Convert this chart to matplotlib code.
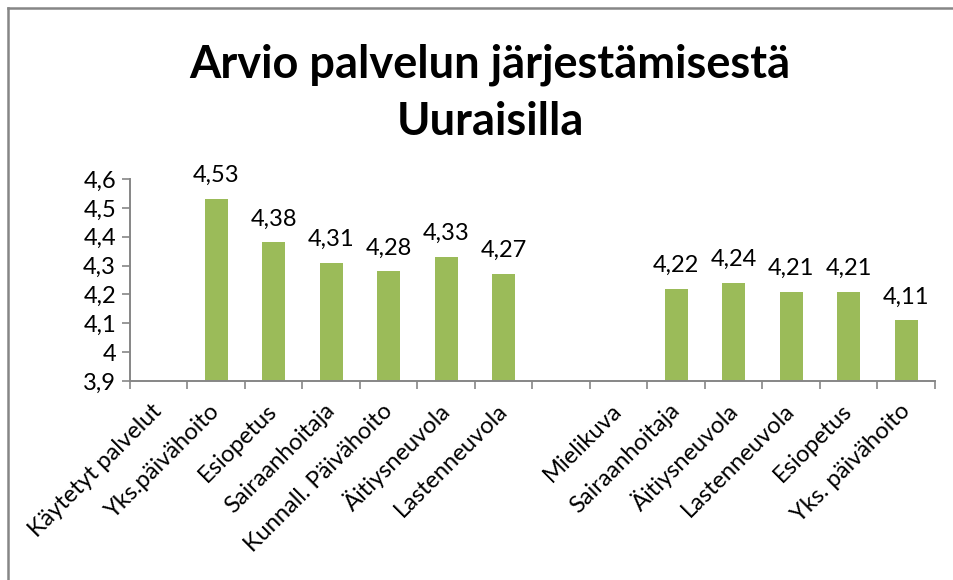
import numpy as np
import matplotlib.pyplot as plt
from matplotlib.lines import Line2D
from matplotlib.transforms import ScaledTranslation

plt.rcParams['font.family'] = ['Lato', 'DejaVu Sans']

categories = ['Käytetyt palvelut', 'Yks.päivähoito', 'Esiopetus', 'Sairaanhoitaja',
              'Kunnall. Päivähoito', 'Äitiysneuvola', 'Lastenneuvola', '',
              'Mielikuva', 'Sairaanhoitaja', 'Äitiysneuvola', 'Lastenneuvola',
              'Esiopetus', 'Yks. päivähoito']
values = [np.nan, 4.53, 4.38, 4.31, 4.28, 4.33, 4.27, np.nan,
          np.nan, 4.22, 4.24, 4.21, 4.21, 4.11]
yticks = [3.9, 4.0, 4.1, 4.2, 4.3, 4.4, 4.5, 4.6]
ytick_labels = ['3,9', '4', '4,1', '4,2', '4,3', '4,4', '4,5', '4,6']

bar_color = '#9BBB59'
axis_color = '#868686'

fig = plt.figure(figsize=(9.54, 5.8), dpi=100)
ax = fig.add_axes([130/954, 1 - 381/580, 805/954, 202/580])

x = np.arange(len(categories))
vals = np.array(values)
ax.bar(x, np.nan_to_num(vals - 3.9), bottom=3.9, width=0.4, color=bar_color)

for xi, v in zip(x, vals):
    if not np.isnan(v):
        ax.text(xi, v + 0.045, f'{v:.2f}'.replace('.', ','), ha='center', va='bottom',
                fontsize=17)

ax.set_ylim(3.9, 4.6)
ax.set_xlim(-0.5, len(categories) - 0.5)
ax.set_yticks(yticks)
ax.set_yticklabels(ytick_labels, fontsize=17)
ax.set_xticks(x)
ax.set_xticklabels(categories, rotation=45, ha='right', va='center',
                   rotation_mode='anchor', fontsize=17)
shift = ScaledTranslation(5/72, 0, fig.dpi_scale_trans)
for lbl in ax.get_xticklabels():
    lbl.set_transform(lbl.get_transform() + shift)
ax.set_xticks(np.arange(len(categories) + 1) - 0.5, minor=True)
ax.tick_params(axis='x', which='major', length=0, pad=19)
ax.tick_params(axis='x', which='minor', length=6, color=axis_color, width=1.2)
ax.tick_params(axis='y', length=6, color=axis_color, width=1.2, pad=4)

for s in ['top', 'right']:
    ax.spines[s].set_visible(False)
for s in ['left', 'bottom']:
    ax.spines[s].set_color(axis_color)
    ax.spines[s].set_linewidth(1.4)

fig.text(490/954, 1 - 93/580, 'Arvio palvelun järjestämisestä\nUuraisilla', ha='center',
         va='center', fontsize=32.5, fontweight='bold', linespacing=1.45)

# chart border (cropped at right and bottom)
fig.add_artist(Line2D([8/954, 1], [1 - 8/580, 1 - 8/580], color=axis_color, lw=1.8))
fig.add_artist(Line2D([8/954, 8/954], [0, 1 - 8/580], color=axis_color, lw=1.8))

fig.savefig('out.png', dpi=100)
